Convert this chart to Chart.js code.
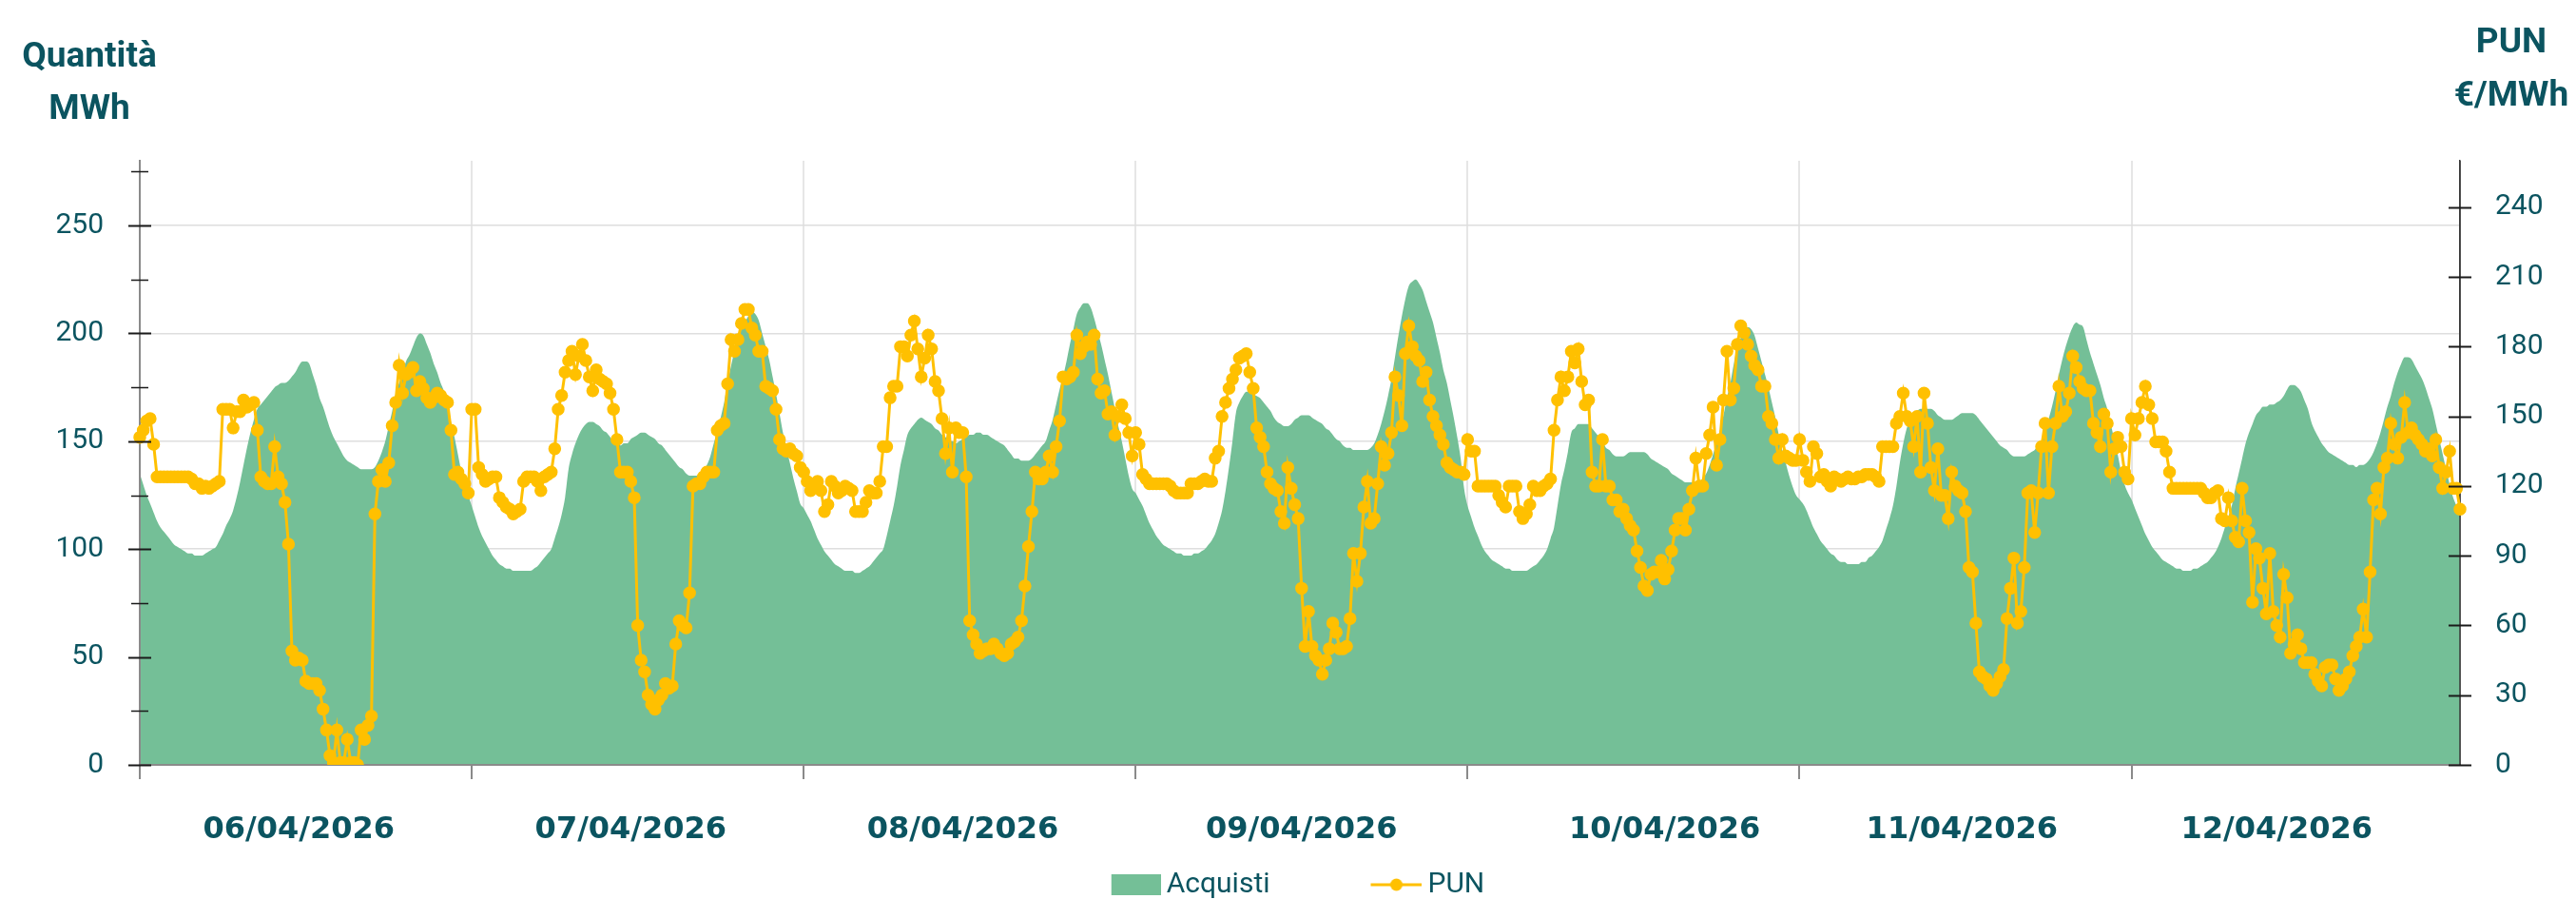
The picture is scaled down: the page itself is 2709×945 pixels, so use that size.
<!DOCTYPE html>
<html>
<head>
<meta charset="utf-8">
<script src="https://cdn.jsdelivr.net/npm/chart.js@4.4.1/dist/chart.umd.min.js"></script>
<style>
  html, body { margin: 0; padding: 0; background: #fff; overflow: hidden; }
  #wrap { position: relative; width: 2709px; height: 945px; }
  .axis-title {
    position: absolute; width: 160px; text-align: center; white-space: nowrap;
    font-family: Roboto, sans-serif; font-weight: 700; font-size: 37px; line-height: 37px;
    color: #0b5460;
  }
</style>
</head>
<body>
<div id="wrap">
  <canvas id="chart" width="2709" height="945"></canvas>
  <div class="axis-title" style="left:14px; top:39px;">Quantità</div>
  <div class="axis-title" style="left:14px; top:94px;">MWh</div>
  <div class="axis-title" style="left:2561px; top:24px;">PUN</div>
  <div class="axis-title" style="left:2561px; top:80px;">€/MWh</div>
</div>
<script>
(function () {
    'use strict';

    var GREEN = '#74bf97';
    var YELLOW = '#ffc000';
    var TEAL = '#0b5460';

    var days = ['06/04/2026', '07/04/2026', '08/04/2026', '09/04/2026', '10/04/2026', '11/04/2026', '12/04/2026'];
    // quarter hour of each day under which its date label sits
    var labelSlots = [46, 46, 46, 48, 57, 47, 42];

    // Acquisti (MWh), one value per quarter hour
    var acquisti06 = [135,130,125,121,117,113,110,108,106,104,102,101,100,99,98,98,97,97,97,98,99,100,101,104,107,111,114,118,124,131,139,147,154,160,165,167,169,171,173,175,176,177,177,178,180,182,185,187,187,186,181,176,170,166,161,156,152,149,146,143,141,140,139,138,137,137,137,137,138,141,145,150,157,164,172,177,182,187,190,194,198,200,199,195,191,186,182,177,173,166,159,152,144,136,130,125];
    var acquisti07 = [120,115,110,106,103,100,97,95,93,92,91,91,90,90,90,90,90,90,91,92,94,96,98,100,105,110,116,124,137,144,149,153,156,158,159,159,158,157,155,154,152,150,149,148,149,149,151,152,153,154,154,153,152,151,149,148,146,144,142,140,138,137,135,134,134,134,135,137,139,143,149,155,161,168,177,185,192,198,202,205,208,210,209,206,200,194,188,180,172,163,154,147,140,133,127,121];
    var acquisti08 = [119,116,113,109,105,102,99,97,95,93,92,91,90,90,90,89,89,90,91,92,94,96,98,100,106,113,120,129,139,146,153,156,158,160,161,160,159,158,156,155,153,152,150,150,149,150,151,152,153,153,154,154,153,153,152,151,150,149,148,146,144,142,142,141,141,141,142,144,146,148,150,155,160,167,174,180,187,195,202,209,212,214,214,212,207,201,195,188,181,173,165,157,150,142,134,128];
    var acquisti09 = [126,123,120,116,112,109,106,104,102,101,100,99,98,98,97,97,97,98,98,99,100,102,104,107,112,118,127,138,150,163,168,171,173,173,172,171,170,168,166,164,161,159,158,157,157,158,160,161,162,162,162,161,160,159,158,156,155,153,151,150,148,147,147,146,146,146,146,146,147,149,153,158,164,171,179,189,199,208,216,222,224,225,223,220,215,210,205,198,191,183,177,169,161,152,142,128];
    var acquisti10 = [120,115,110,106,102,99,97,95,94,93,92,91,91,90,90,90,90,90,91,92,93,95,97,100,105,110,120,130,137,145,154,156,158,158,158,158,156,154,152,150,147,146,144,143,143,143,144,145,145,145,145,145,144,142,141,140,139,138,137,135,134,133,132,131,131,131,131,131,133,135,139,144,149,155,162,170,177,186,194,198,202,203,202,199,193,187,181,175,168,161,153,146,140,134,129,125];
    var acquisti11 = [123,121,118,114,110,107,104,102,100,98,97,95,94,94,93,93,93,93,94,94,96,97,99,101,104,109,114,120,129,140,149,156,160,163,164,165,165,165,165,164,162,161,160,160,160,161,162,163,163,163,163,162,160,158,156,154,152,150,148,147,146,144,143,143,143,143,144,145,146,148,150,154,160,166,173,181,188,194,199,203,205,204,203,197,191,186,181,176,170,165,158,151,144,136,130,126];
    var acquisti12 = [123,119,115,111,107,104,101,99,97,95,94,93,92,91,91,90,90,90,91,91,92,93,94,96,98,101,105,110,115,120,128,135,142,149,154,158,162,164,166,166,167,167,168,169,171,174,176,176,175,173,169,165,159,155,152,149,147,145,144,143,142,141,140,139,139,138,139,139,140,142,145,149,154,160,166,171,177,182,186,189,189,188,185,182,179,175,170,165,158,151,144,137,130,124,120,116];

    // PUN (EUR/MWh), one value per quarter hour
    var pun06 = [141,144,148,149,138,124,124,124,124,124,124,124,124,124,124,123,121,121,119,120,119,120,121,122,153,153,153,145,152,152,157,154,155,156,144,124,122,121,121,137,124,121,113,95,49,45,46,45,36,35,35,35,32,24,15,4,1,15,1,1,11,1,1,0,15,11,17,21,108,122,127,122,130,146,156,172,160,168,169,171,161,165,162,158,156,158,160,159,157,156,144,125,126,123,121,117];
    var pun07 = [153,153,128,125,122,123,124,124,115,113,111,110,108,109,110,122,124,124,124,122,118,124,125,126,136,153,159,169,174,178,168,176,181,174,167,161,170,166,165,164,160,153,140,126,126,126,122,115,60,45,40,30,26,24,28,30,35,33,34,52,62,60,59,74,120,121,121,124,126,126,126,144,146,147,164,183,178,183,190,196,196,188,185,178,178,163,162,161,153,140,136,135,136,134,133,128];
    var pun08 = [126,122,118,120,122,118,109,112,122,120,117,118,120,119,118,109,109,109,113,118,117,117,122,137,137,158,163,163,180,180,176,185,191,179,167,175,185,179,165,161,149,134,145,126,145,143,143,124,62,56,52,48,49,50,50,52,50,48,47,48,52,53,55,62,77,94,109,126,123,123,126,133,126,137,148,167,166,167,169,185,177,180,182,181,185,166,160,161,151,152,142,150,155,149,143,133];
    var pun09 = [143,138,125,123,121,121,121,121,121,121,120,118,117,117,117,117,121,121,121,122,123,122,122,132,135,150,156,162,166,170,175,176,177,169,162,145,141,137,126,121,119,118,109,104,128,119,112,106,76,51,66,51,47,45,39,45,50,61,57,50,50,51,63,91,79,91,111,122,104,106,121,137,129,134,143,167,159,146,177,189,180,176,174,165,169,157,150,146,142,138,130,128,127,126,126,125];
    var pun10 = [140,135,135,120,120,120,120,120,120,116,113,111,120,120,120,109,106,108,112,120,118,118,120,121,123,144,157,167,161,167,178,173,179,165,155,157,126,120,120,140,120,120,114,114,109,110,106,103,101,92,85,77,75,82,83,83,88,80,84,92,101,106,106,101,110,118,132,120,120,134,142,154,129,140,157,178,157,162,181,189,186,181,176,172,170,163,163,150,147,140,132,140,133,132,131,131];
    var pun11 = [140,131,126,122,137,134,124,125,122,120,124,123,122,123,124,123,123,124,124,125,125,125,124,122,137,137,137,137,147,150,160,150,148,137,150,126,160,147,128,118,136,116,116,106,126,120,118,117,109,85,83,61,40,38,37,34,32,35,38,41,63,76,89,61,66,85,117,118,100,117,137,147,117,137,147,163,150,152,160,176,171,165,162,161,161,147,143,137,151,147,126,136,141,137,126,123];
    var pun12 = [149,142,149,156,163,155,149,139,139,139,135,126,119,119,119,119,119,119,119,119,119,117,115,115,117,118,106,105,115,105,98,96,119,105,100,70,93,89,76,65,91,66,60,55,82,72,48,52,56,50,44,44,44,39,36,34,42,43,43,37,32,34,37,40,47,51,55,67,55,83,114,119,108,128,132,147,138,132,141,156,143,145,142,140,138,135,136,133,140,128,119,126,135,119,119,110];

    var acquisti = [].concat(acquisti06, acquisti07, acquisti08, acquisti09, acquisti10, acquisti11, acquisti12);
    var pun = [].concat(pun06, pun07, pun08, pun09, pun10, pun11, pun12);

    var labels = [];
    days.forEach(function (day) {
        for (var q = 0; q < 96; q++) {
            var hh = String(Math.floor(q / 4)).padStart(2, '0');
            var mm = String((q % 4) * 15).padStart(2, '0');
            labels.push(day + ' ' + hh + ':' + mm);
        }
    });

    // legend swatches: drawn at the right end of a wider canvas so the
    // legend keeps the original spacing between the two items
    var LEGEND_BOX = 131;
    function legendIcon(draw) {
        var c = document.createElement('canvas');
        c.width = LEGEND_BOX + 18;
        c.height = 22;
        draw(c.getContext('2d'), c.width);
        return c;
    }
    var acqIcon = legendIcon(function (g, w) {
        g.fillStyle = GREEN;
        g.fillRect(w - 52, 0, 52, 22);
    });
    var punIcon = legendIcon(function (g, w) {
        g.strokeStyle = YELLOW;
        g.lineWidth = 3;
        g.beginPath(); g.moveTo(w - 54, 11); g.lineTo(w, 11); g.stroke();
        g.fillStyle = YELLOW;
        g.beginPath(); g.arc(w - 27, 11, 6.5, 0, Math.PI * 2); g.fill();
    });

    // axis lines over the area, and tick marks crossing both y axes
    var axisDecor = {
        id: 'axisDecor',
        afterDatasetDraw: function (chart, args) {
            if (args.index !== 0) return;
            var ctx = chart.ctx, a = chart.chartArea;
            ctx.save();
            ctx.lineWidth = 2;
            ctx.strokeStyle = '#8a8a8a';
            ctx.beginPath();
            ctx.moveTo(a.left, a.top); ctx.lineTo(a.left, a.bottom + 15);
            ctx.moveTo(a.left, a.bottom); ctx.lineTo(a.right, a.bottom);
            ctx.stroke();
            ctx.strokeStyle = '#3a3a3a';
            ctx.lineWidth = 1.5;
            ctx.beginPath();
            ctx.moveTo(a.right, a.top); ctx.lineTo(a.right, a.bottom);
            ctx.stroke();
            ctx.restore();
        },
        afterDraw: function (chart) {
            var ctx = chart.ctx;
            [['y', 50, chart.scales.y.right], ['y1', 30, chart.scales.y1.left]].forEach(function (s) {
                var scale = chart.scales[s[0]];
                scale.ticks.forEach(function (t) {
                    var y = Math.round(scale.getPixelForValue(t.value)) + 0.5;
                    var big = t.value % s[1] === 0;
                    var half = big ? 12 : 9;
                    ctx.save();
                    ctx.strokeStyle = '#1a1a1a';
                    ctx.lineWidth = big ? 2 : 1.5;
                    ctx.beginPath();
                    ctx.moveTo(s[2] - half, y);
                    ctx.lineTo(s[2] + half, y);
                    ctx.stroke();
                    ctx.restore();
                });
            });
        }
    };

    Chart.defaults.font.family = 'Roboto, sans-serif';
    Chart.defaults.color = TEAL;

    var ctx = document.getElementById('chart').getContext('2d');
    window.punChart = new Chart(ctx, {
        type: 'line',
        data: {
            labels: labels,
            datasets: [
                {
                    label: 'Acquisti',
                    data: acquisti,
                    yAxisID: 'y',
                    order: 2,
                    fill: 'origin',
                    backgroundColor: GREEN,
                    borderColor: GREEN,
                    borderWidth: 0,
                    pointRadius: 0,
                    cubicInterpolationMode: 'monotone'
                },
                {
                    label: 'PUN',
                    data: pun,
                    yAxisID: 'y1',
                    order: 1,
                    fill: false,
                    borderColor: YELLOW,
                    backgroundColor: YELLOW,
                    borderWidth: 3,
                    pointRadius: 6,
                    pointBorderWidth: 1.5,
                    pointBackgroundColor: YELLOW,
                    pointBorderColor: YELLOW
                }
            ]
        },
        options: {
            responsive: false,
            animation: false,
            events: [],
            // negative left padding only recentres the full-width legend;
            // the y axis width below compensates so the plot keeps its place
            layout: { padding: { top: 169, left: -67, right: 0, bottom: -10 } },
            plugins: {
                tooltip: { enabled: false },
                legend: {
                    position: 'bottom',
                    labels: {
                        usePointStyle: true,
                        pointStyleWidth: LEGEND_BOX,
                        padding: 20,
                        color: TEAL,
                        font: { size: 30 },
                        sort: function (a, b) { return a.datasetIndex - b.datasetIndex; },
                        generateLabels: function (chart) {
                            var items = Chart.defaults.plugins.legend.labels.generateLabels(chart);
                            items.forEach(function (it) {
                                it.pointStyle = it.datasetIndex === 0 ? acqIcon : punIcon;
                            });
                            return items;
                        }
                    }
                }
            },
            scales: {
                x: {
                    type: 'category',
                    offset: false,
                    afterFit: function (scale) {
                        var lg = scale.chart.legend ? scale.chart.legend.height : 0;
                        scale.height = Math.max(1, 945 + 10 - lg - 804);
                    },
                    border: { color: '#8a8a8a', width: 2 },
                    grid: {
                        lineWidth: 2,
                        tickLength: 15,
                        tickWidth: 2,
                        color: function (c) { return c.index % 96 === 0 ? '#e6e6e6' : 'rgba(0,0,0,0)'; },
                        tickColor: function (c) { return c.index % 96 === 0 ? '#8a8a8a' : 'rgba(0,0,0,0)'; }
                    },
                    ticks: {
                        autoSkip: false,
                        maxRotation: 0,
                        minRotation: 0,
                        padding: 34,
                        color: TEAL,
                        font: { family: '"DejaVu Sans", sans-serif', size: 32, weight: 'bold' },
                        callback: function (value, index) {
                            var d = Math.floor(index / 96);
                            return index % 96 === labelSlots[d] ? days[d] : '';
                        }
                    }
                },
                y: {
                    position: 'left',
                    min: 0,
                    max: 280,
                    afterFit: function (scale) { scale.width = 147 + 67; },
                    border: { color: '#8a8a8a', width: 2 },
                    grid: {
                        drawTicks: false,
                        lineWidth: 1.5,
                        color: function (c) {
                            return c.tick && c.tick.value > 0 && c.tick.value % 50 === 0 ? '#dedede' : 'rgba(0,0,0,0)';
                        }
                    },
                    ticks: {
                        stepSize: 25,
                        includeBounds: false,
                        padding: 38,
                        color: TEAL,
                        font: { size: 30 },
                        callback: function (v) { return v % 50 === 0 ? v : ''; }
                    }
                },
                y1: {
                    position: 'right',
                    min: 0,
                    max: 260,
                    afterFit: function (scale) { scale.width = 122; },
                    border: { color: '#3a3a3a', width: 1.5 },
                    grid: { drawOnChartArea: false, drawTicks: false },
                    ticks: {
                        stepSize: 15,
                        includeBounds: false,
                        padding: 37,
                        color: TEAL,
                        font: { size: 30 },
                        callback: function (v) { return v % 30 === 0 ? v : ''; }
                    }
                }
            }
        },
        plugins: [axisDecor]
    });
})();
</script>
</body>
</html>
